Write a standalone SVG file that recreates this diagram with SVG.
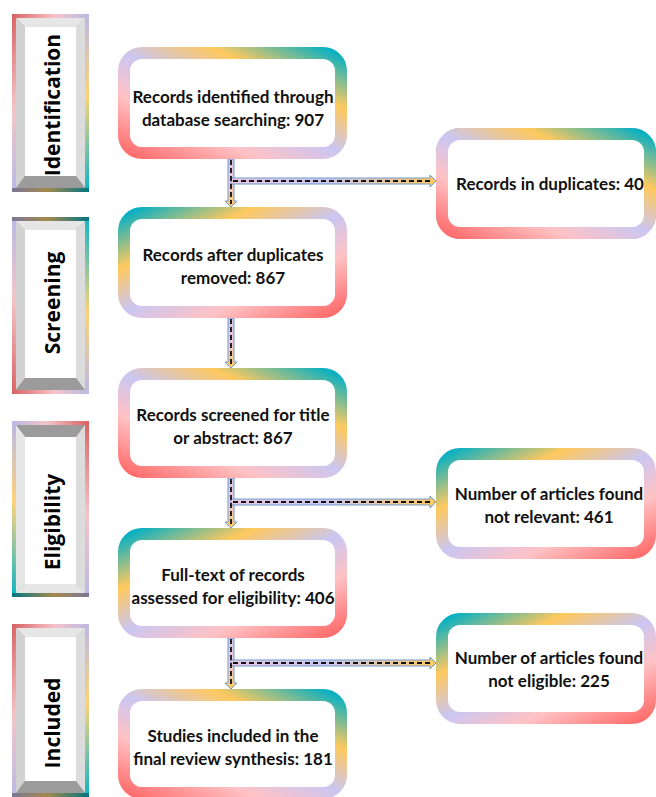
<svg xmlns="http://www.w3.org/2000/svg" width="656" height="797" viewBox="0 0 656 797">
<defs>
<linearGradient id="gA" x1="0" y1="1" x2="1" y2="0">
<stop offset="0" stop-color="#FF6B6B"/><stop offset="0.28" stop-color="#FFC2C4"/><stop offset="0.5" stop-color="#CBC6F2"/><stop offset="0.73" stop-color="#FFC95E"/><stop offset="1" stop-color="#00AFC6"/>
</linearGradient>
<linearGradient id="gB" x1="0" y1="0" x2="1" y2="1">
<stop offset="0" stop-color="#00AFC6"/><stop offset="0.27" stop-color="#FFC95E"/><stop offset="0.5" stop-color="#CBC6F2"/><stop offset="0.72" stop-color="#FFC2C4"/><stop offset="1" stop-color="#FF6B6B"/>
</linearGradient>
<linearGradient id="sI" x1="0" y1="0" x2="1" y2="1">
<stop offset="0" stop-color="#D95F5F"/><stop offset="0.28" stop-color="#F5C4C8"/><stop offset="0.5" stop-color="#BDB9E4"/><stop offset="0.72" stop-color="#FFD27A"/><stop offset="1" stop-color="#00B4C8"/>
</linearGradient>
<linearGradient id="sS" x1="1" y1="0" x2="0" y2="1">
<stop offset="0" stop-color="#00B4C8"/><stop offset="0.28" stop-color="#FFD27A"/><stop offset="0.5" stop-color="#BDB9E4"/><stop offset="0.72" stop-color="#F5C4C8"/><stop offset="1" stop-color="#D95F5F"/>
</linearGradient>
<linearGradient id="sE" x1="1" y1="0" x2="0" y2="1">
<stop offset="0" stop-color="#D95F5F"/><stop offset="0.28" stop-color="#F5C4C8"/><stop offset="0.5" stop-color="#BDB9E4"/><stop offset="0.72" stop-color="#FFD27A"/><stop offset="1" stop-color="#00B4C8"/>
</linearGradient>
<linearGradient id="aV" x1="0" y1="0" x2="0" y2="1">
<stop offset="0" stop-color="#CFC6EE"/><stop offset="0.5" stop-color="#F0C8D8"/><stop offset="1" stop-color="#FFC95E"/>
</linearGradient>
<linearGradient id="aH" x1="0" y1="0" x2="1" y2="0">
<stop offset="0" stop-color="#E8C6DE"/><stop offset="0.45" stop-color="#CBC6F2"/><stop offset="1" stop-color="#FFC95E"/>
</linearGradient>
<style>
.box{fill:#fff;stroke-width:12}
.a{stroke:url(#gA)}
.b{stroke:url(#gB)}
.t{font-family:Lato,"Liberation Sans",sans-serif;font-weight:bold;font-size:17px;fill:#111;text-anchor:middle}
.st{font-family:"Open Sans","Liberation Sans",sans-serif;font-weight:bold;font-size:21px;fill:#000;text-anchor:middle}
.arr{stroke:#6F9BD1;stroke-width:1}
.dash{stroke:#111;stroke-width:1.8;stroke-dasharray:5 3;fill:none}
.lt{fill:#E6E6E6}.lm{fill:#D2D2D2}.lr{fill:#DCDCDC}.dk{fill:#9B9B9B}
.shade{fill:#000;fill-opacity:0.35}
</style>
</defs>

<!-- Stage labels -->
<g id="stage-identification">
<rect x="12" y="14" width="77" height="178" fill="url(#sI)"/>
<rect x="12" y="188" width="77" height="4" class="shade"/>
<polygon class="lt" points="16,18 85,18 76,27 25,27"/>
<polygon class="lm" points="16,18 25,27 25,176 16,188"/>
<polygon class="lr" points="85,18 85,188 76,176 76,27"/>
<polygon class="dk" points="16,188 25,176 76,176 85,188"/>
<rect x="25" y="27" width="51" height="149" fill="#fff"/>
<text class="st" transform="translate(60,105) rotate(-90)">Identification</text>
</g>
<g id="stage-screening">
<rect x="12" y="217" width="77" height="177" fill="url(#sS)"/>
<rect x="12" y="217" width="77" height="4" class="shade"/>
<polygon class="lt" points="16,221 85,221 76,230 25,230"/>
<polygon class="lm" points="16,221 25,230 25,378 16,390"/>
<polygon class="lr" points="85,221 85,390 76,378 76,230"/>
<polygon class="dk" points="16,390 25,378 76,378 85,390"/>
<rect x="25" y="230" width="51" height="148" fill="#fff"/>
<text class="st" transform="translate(60,303) rotate(-90)">Screening</text>
</g>
<g id="stage-eligibility">
<rect x="12" y="421" width="77" height="176" fill="url(#sE)"/>
<rect x="12" y="593" width="77" height="4" class="shade"/>
<polygon class="dk" points="16,425 85,425 76,437 25,437"/>
<polygon class="lt" points="16,425 25,437 25,584 16,593"/>
<polygon class="lr" points="85,425 85,593 76,584 76,437"/>
<polygon class="lt" points="16,593 25,584 76,584 85,593"/>
<rect x="25" y="437" width="51" height="147" fill="#fff"/>
<text class="st" transform="translate(60,522) rotate(-90)">Eligibility</text>
</g>
<g id="stage-included">
<rect x="12" y="624" width="77" height="173" fill="url(#sI)"/>
<rect x="12" y="793" width="77" height="4" class="shade"/>
<polygon class="lt" points="16,628 85,628 76,637 25,637"/>
<polygon class="lm" points="16,628 25,637 25,781 16,793"/>
<polygon class="lr" points="85,628 85,793 76,781 76,637"/>
<polygon class="dk" points="16,793 25,781 76,781 85,793"/>
<rect x="25" y="637" width="51" height="144" fill="#fff"/>
<text class="st" transform="translate(60,723) rotate(-90)">Included</text>
</g>

<!-- Connectors -->
<g id="connectors">
<polygon class="arr" fill="url(#aV)" points="228,159 234,159 234,201 237,201 231,207 225,201 228,201"/>
<polygon class="arr" fill="url(#aH)" points="231,178 430,178 430,175 436,181 430,187 430,184 231,184"/>
<line class="dash" x1="231" y1="160" x2="231" y2="204"/>
<line class="dash" x1="233" y1="181" x2="432" y2="181"/>

<polygon class="arr" fill="url(#aV)" points="228,318 234,318 234,362 237,362 231,368 225,362 228,362"/>
<line class="dash" x1="231" y1="319" x2="231" y2="365"/>

<polygon class="arr" fill="url(#aV)" points="228,478 234,478 234,522 237,522 231,528 225,522 228,522"/>
<polygon class="arr" fill="url(#aH)" points="231,499 430,499 430,496 436,502 430,508 430,505 231,505"/>
<line class="dash" x1="231" y1="479" x2="231" y2="525"/>
<line class="dash" x1="233" y1="502" x2="432" y2="502"/>

<polygon class="arr" fill="url(#aV)" points="228,638 234,638 234,683 237,683 231,689 225,683 228,683"/>
<polygon class="arr" fill="url(#aH)" points="231,660 430,660 430,657 436,663 430,669 430,666 231,666"/>
<line class="dash" x1="231" y1="639" x2="231" y2="686"/>
<line class="dash" x1="233" y1="663" x2="432" y2="663"/>
</g>

<!-- Main nodes -->
<g id="n-identified">
<rect class="box a" x="124" y="53" width="217" height="100" rx="18"/>
<text class="t" x="233" y="103">Records identified through</text>
<text class="t" x="233" y="126">database searching: 907</text>
</g>
<g id="n-after-duplicates">
<rect class="box b" x="124" y="213" width="217" height="99" rx="18"/>
<text class="t" x="233" y="261">Records after duplicates</text>
<text class="t" x="233" y="284">removed: 867</text>
</g>
<g id="n-screened">
<rect class="box a" x="124" y="374" width="217" height="98" rx="18"/>
<text class="t" x="233" y="421">Records screened for title</text>
<text class="t" x="233" y="444">or abstract: 867</text>
</g>
<g id="n-fulltext">
<rect class="box b" x="124" y="534" width="217" height="98" rx="18"/>
<text class="t" x="233" y="581">Full-text of records</text>
<text class="t" x="233" y="604">assessed for eligibility: 406</text>
</g>
<g id="n-included">
<rect class="box a" x="124" y="695" width="217" height="98" rx="18"/>
<text class="t" x="233" y="742">Studies included in the</text>
<text class="t" x="233" y="765">final review synthesis: 181</text>
</g>

<!-- Right nodes -->
<g id="r-duplicates">
<rect x="436.5" y="128.5" width="219" height="110" rx="24" fill="none" stroke="#6F9BD1" stroke-width="1"/>
<rect class="box a" x="442" y="134" width="208" height="99" rx="18"/>
<text class="t" x="550" y="190">Records in duplicates: 40</text>
</g>
<g id="r-not-relevant">
<rect class="box b" x="442" y="454" width="208" height="99" rx="18"/>
<text class="t" x="549" y="500">Number of articles found</text>
<text class="t" x="549" y="523">not relevant: 461</text>
</g>
<g id="r-not-eligible">
<rect class="box b" x="442" y="619" width="208" height="99" rx="18"/>
<text class="t" x="549" y="664">Number of articles found</text>
<text class="t" x="549" y="687">not eligible: 225</text>
</g>
</svg>
